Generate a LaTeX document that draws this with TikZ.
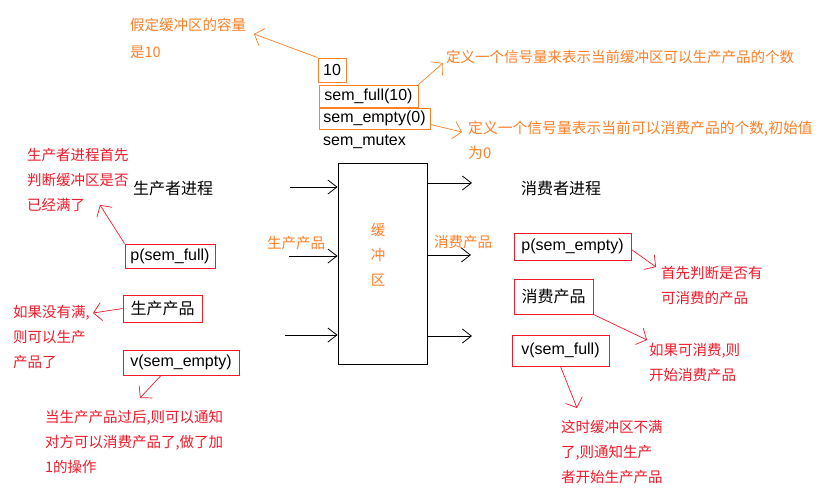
\documentclass[tikz,border=0pt]{standalone}
\usepackage{fontspec}
\setmainfont{Liberation Sans}
\newfontfamily\cjk{Noto Sans CJK SC}
\usetikzlibrary{arrows.meta}
\definecolor{orgc}{RGB}{255,127,39}
\definecolor{redc}{RGB}{240,26,42}
\tikzset{
  note/.style={font=\cjk\fontsize{14.5}{25}\selectfont, inner sep=0pt, align=left, anchor=north west},
  onote/.style={note, text=orgc},
  rnote/.style={note, text=redc},
  title/.style={font=\cjk\fontsize{16}{19}\selectfont, inner sep=0pt, anchor=west},
  boxbase/.style={line width=0.9pt, inner sep=0pt, font=\fontsize{16}{19}\selectfont},
  obox/.style={boxbase, draw=orgc},
  rbox/.style={boxbase, draw=redc},
  oconn/.style={draw=orgc, line width=0.7pt, -{Straight Barb[length=8pt,width=18pt]}},
  rconn/.style={draw=redc, line width=0.7pt, -{Straight Barb[length=8pt,width=18pt]}},
  barrow/.style={line width=0.8pt, -{Straight Barb[length=9pt,width=14pt]}}
}
\begin{document}
\begin{tikzpicture}[x=1pt,y=-1pt]
\useasboundingbox[fill=white] (0,0) rectangle (826,498);

% top semaphore boxes
\node[obox, minimum width=28pt, minimum height=24pt] (b10) at (332,70) {10};
\node[obox, minimum width=99pt, minimum height=22pt] (bfull) at (368.5,96) {sem\_full(10)};
\node[obox, minimum width=111pt, minimum height=21pt] (bempty) at (374.5,118.5) {sem\_empty(0)};
\node[inner sep=0pt, anchor=west, font=\fontsize{16}{19}\selectfont] (mutex) at (323,142) {sem\_mutex};

% orange notes
\node[onote, font=\cjk\fontsize{14.5}{27}\selectfont] (cap) at (130,18) {假定缓冲区的容量\\是10};
\node[onote] (fullnote) at (446,50) {定义一个信号量来表示当前缓冲区可以生产产品的个数};
\node[onote, font=\cjk\fontsize{14.8}{25}\selectfont] (emptynote) at (468,121) {定义一个信号量表示当前可以消费产品的个数,初始值\\为0};

\coordinate (tcap) at (254,34);
\coordinate (tfull) at (443,63);
\coordinate (tempty) at (462,132);
\draw[oconn] (b10.north west) -- (tcap);
\draw[oconn] (bfull.north east) -- (tfull);
\draw[oconn] ([yshift=-6pt]bempty.east) -- (tempty);

% buffer
\node[draw=black, line width=0.9pt, minimum width=89pt, minimum height=201pt, inner sep=0pt] (buf) at (382.5,263.5) {};
\node[font=\cjk\fontsize{14.5}{25}\selectfont, text=orgc, align=center, inner sep=0pt] (bufl) at (378,255) {缓\\冲\\区};
\node[title, font=\cjk\fontsize{14.5}{19}\selectfont, text=orgc] (prodl) at (267,243) {生产产品};
\node[title, font=\cjk\fontsize{14.5}{19}\selectfont, text=orgc] (consl) at (434,242) {消费产品};

\coordinate (l1) at (290,187);
\coordinate (l2) at (289,256);
\coordinate (l3) at (285,335);
\coordinate (r1) at (472,183);
\coordinate (r2) at (471,255);
\coordinate (r3) at (472,336);
\draw[barrow] (l1) -- (l1 -| buf.west);
\draw[barrow] (l2) -- (l2 -| buf.west);
\draw[barrow] (l3) -- (l3 -| buf.west);
\draw[barrow] (r1 -| buf.east) -- (r1);
\draw[barrow] (r2 -| buf.east) -- (r2);
\draw[barrow] (r3 -| buf.east) -- (r3);

% producer side
\node[title] (ptitle) at (133,188) {生产者进程};
\node[rnote] (pnote1) at (27,148) {生产者进程首先\\判断缓冲区是否\\已经满了};
\node[rbox, minimum width=90pt, minimum height=24pt] (pfull) at (170,256) {p(sem\_full)};
\node[rbox, minimum width=79pt, minimum height=27pt, font=\cjk\fontsize{16}{19}\selectfont] (prod) at (162.5,308.5) {生产产品};
\node[rbox, minimum width=116pt, minimum height=25pt] (vempty) at (181,362.5) {v(sem\_empty)};
\node[rnote] (pnote2) at (13,305) {如果没有满,\\则可以生产\\产品了};
\node[rnote] (pnote3) at (45,410) {当生产产品过后,则可以通知\\对方可以消费产品了,做了加\\1的操作};

\coordinate (tp1) at (100,205);
\coordinate (tp2) at (93,313);
\coordinate (tp3) at (140,398);
\draw[rconn] (pfull.north west) -- (tp1);
\draw[rconn] (prod.west) -- (tp2);
\draw[rconn] ([xshift=-20pt]vempty.south) -- (tp3);

% consumer side
\node[title] (ctitle) at (521,188) {消费者进程};
\node[rbox, minimum width=117pt, minimum height=27pt] (pempty) at (572.5,246.5) {p(sem\_empty)};
\node[rbox, minimum width=79pt, minimum height=35pt, font=\cjk\fontsize{16}{19}\selectfont] (cons) at (553.5,296.5) {消费产品};
\node[rbox, minimum width=97pt, minimum height=31pt] (vfull) at (560.5,350.5) {v(sem\_full)};
\node[rnote] (cnote1) at (661,266) {首先判断是否有\\可消费的产品};
\node[rnote] (cnote2) at (649,343) {如果可消费,则\\开始消费产品};
\node[rnote] (cnote3) at (561,420) {这时缓冲区不满\\了,则通知生产\\者开始生产产品};

\coordinate (tc1) at (656,267);
\coordinate (tc2) at (647,340);
\coordinate (tc3) at (577,408);
\draw[rconn] ([yshift=-3pt]pempty.east) -- (tc1);
\draw[rconn] (cons.south east) -- (tc2);
\draw[rconn] (vfull.south) -- (tc3);
\end{tikzpicture}
\end{document}
